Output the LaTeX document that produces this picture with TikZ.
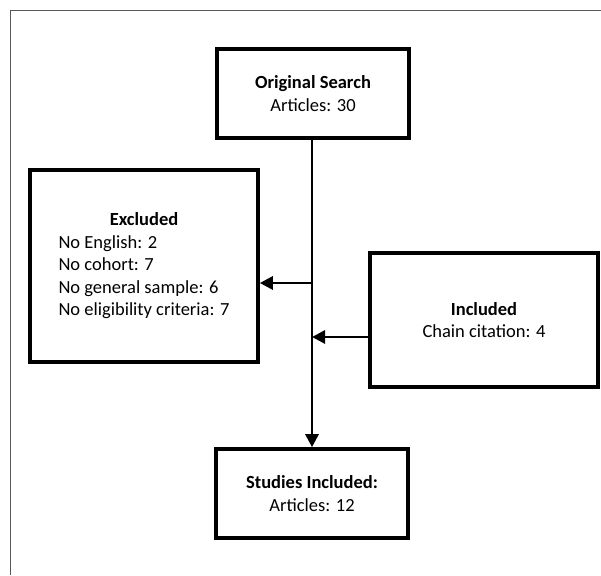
\documentclass[tikz,border=0pt]{standalone}
\usepackage{fontspec}
\setmainfont{Carlito}
\usetikzlibrary{arrows.meta}
\begin{document}
\begin{tikzpicture}[x=1pt,y=-1pt]

    \tikzset{
      flowbox/.style={
        draw,
        line width=3.6pt,
        inner sep=0pt,
        align=center,
        font=\fontsize{18.5}{22.5}\selectfont,
      },
      flowarrow/.style={
        line width=2.8pt,
        -{Triangle[length=13pt,width=13pt]},
      },
    }
    \useasboundingbox (0,0) rectangle (601,575);
	\draw [color={black!65},line width=1.3pt] (10.5,575)--(10.5,10.5)--(601,10.5);

	\node[flowbox,minimum width=192pt,minimum height=89pt] (search) at (313,93.5) {\textbf{Original Search}\\Articles: 30};
	\node[flowbox,minimum width=228pt,minimum height=192pt] (excl) at (144,266) {\begin{tabular}{@{}l@{}}\multicolumn{1}{@{}c@{}}{\textbf{Excluded}}\\No English: 2\\No cohort: 7\\No general sample: 6\\No eligibility criteria: 7\end{tabular}};
	\node[flowbox,minimum width=228pt,minimum height=134pt] (incl) at (484,320) {\textbf{Included}\\Chain citation: 4};
	\node[flowbox,minimum width=192pt,minimum height=89pt] (studies) at (312,493.5) {\textbf{Studies Included:}\\Articles: 12};

	\coordinate (jexcl) at (312,283);
	\coordinate (jincl) at (312,337);
	\draw[flowarrow] (search.south -| studies.north) -- (studies.north);
	\draw[flowarrow] (jexcl) -- (jexcl -| excl.east);
	\draw[flowarrow] (jincl -| incl.west) -- (jincl);

\end{tikzpicture}
\end{document}
